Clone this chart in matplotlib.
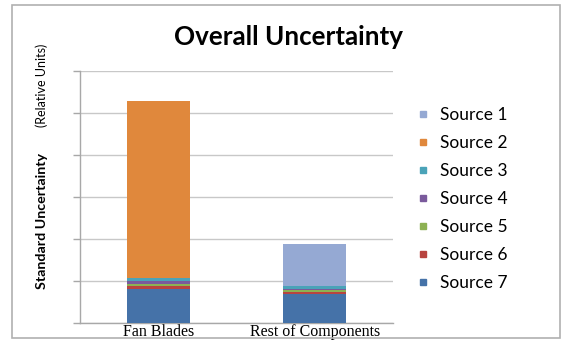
import matplotlib
matplotlib.use("Agg")
import matplotlib.pyplot as plt
from matplotlib.lines import Line2D
from matplotlib.patches import Rectangle

categories = ["Fan Blades", "Rest of Components"]
sources = ["Source 1", "Source 2", "Source 3", "Source 4", "Source 5", "Source 6", "Source 7"]

# stacked contributions per category (relative units)
source_1 = [0.00, 0.99]
source_2 = [4.21, 0.02]
source_3 = [0.07, 0.05]
source_4 = [0.07, 0.04]
source_5 = [0.05, 0.04]
source_6 = [0.08, 0.05]
source_7 = [0.81, 0.69]

colors = ["#95A9D3", "#E0883C", "#4AA3B8", "#7A5A9C", "#8DB153", "#B8443F", "#4572A8"]

values = [source_1, source_2, source_3, source_4, source_5, source_6, source_7]

fig = plt.figure(figsize=(5.61, 3.40), dpi=100)
ax = fig.add_axes([0.1426, 0.05, 0.558, 0.7412])

x = range(len(categories))
bottom = [0.0, 0.0]
# draw from Source 7 upward
for name, vals, col in reversed(list(zip(sources, values, colors))):
    ax.bar(x, vals, width=0.4, bottom=bottom, color=col, zorder=3, linewidth=0)
    bottom = [b + v for b, v in zip(bottom, vals)]

ax.set_xlim(-0.5, 1.5)
ax.set_ylim(0, 6)
ax.set_yticks(range(7))
ax.set_yticklabels([])
ax.yaxis.grid(True, color="#C8C8C8", linewidth=1.0, zorder=0)
ax.tick_params(axis="y", length=5, color="#A8A8A8", width=1)
ax.tick_params(axis="x", length=0, pad=1)
ax.set_xticks(list(x))
ax.set_xticklabels(categories, fontfamily="Liberation Serif", fontsize=11.5)
for side in ["top", "right"]:
    ax.spines[side].set_visible(False)
for side in ["left", "bottom"]:
    ax.spines[side].set_color("#A8A8A8")
    ax.spines[side].set_linewidth(1)

fig.text(0.515, 0.89, "Overall Uncertainty", ha="center", va="center",
         fontfamily="Lato", fontweight="bold", fontsize=18.7)

fig.text(0.075, 0.35, "Standard Uncertainty", rotation=90, ha="center", va="center",
         fontfamily="Lato", fontweight="bold", fontsize=10.3)
fig.text(0.075, 0.75, "(Relative Units)", rotation=90, ha="center", va="center",
         fontfamily="Lato", fontsize=9)

handles = [Line2D([], [], marker="s", linestyle="none", markersize=5,
                  markerfacecolor=c, markeredgecolor=c) for c in colors]
fig.legend(handles, sources, loc="upper left", bbox_to_anchor=(0.744, 0.685),
           frameon=False, prop={"family": "Lato", "size": 12.5},
           handlelength=0.7, handletextpad=0.6, labelspacing=0.69,
           borderpad=0, borderaxespad=0)

fig.patches.append(Rectangle((0.021, 0.006), 0.977, 0.978, transform=fig.transFigure,
                             fill=False, edgecolor="#B0B0B0", linewidth=1.2))

fig.savefig("out.png", dpi=100)
